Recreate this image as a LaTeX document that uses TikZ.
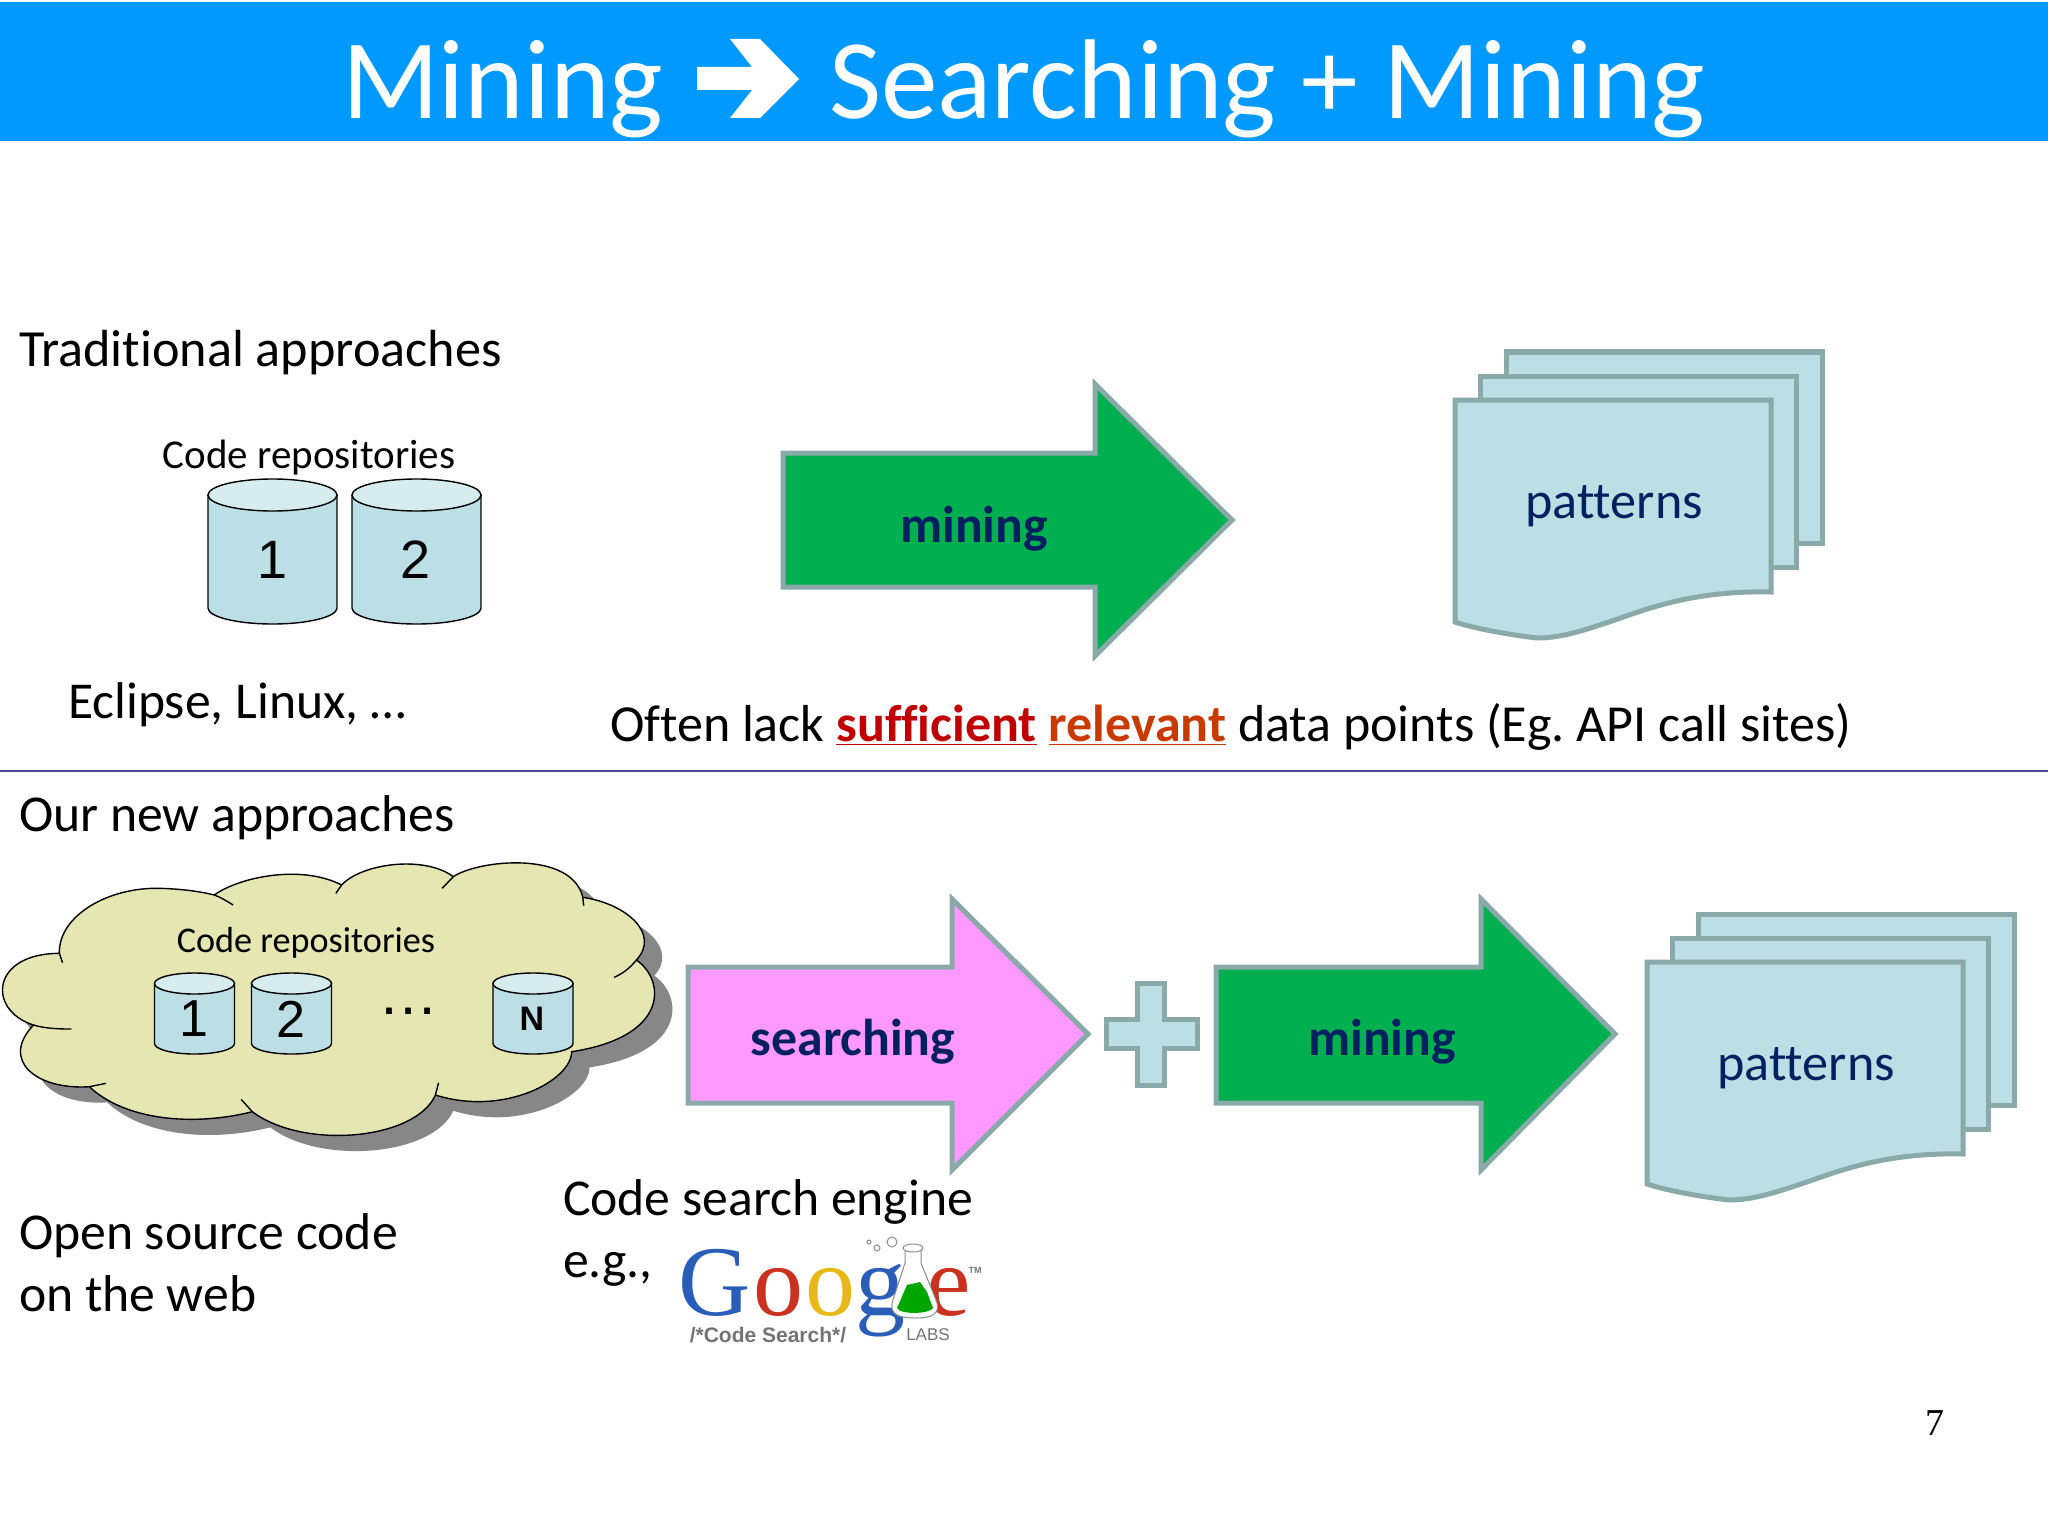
\documentclass[tikz,border=0pt]{standalone}
\usepackage{xcolor}
\usepackage{fontspec}
\setmainfont[Ligatures=NoCommon]{Carlito}
\newfontfamily\arialfont{Liberation Sans}
\newfontfamily\timesfont{Liberation Serif}
\usepackage{tikz}
\usetikzlibrary{positioning}
\definecolor{headblue}{HTML}{0099FF}
\definecolor{pagefill}{HTML}{BBDFE4}
\definecolor{pageedge}{HTML}{8AA9A9}
\definecolor{labelnavy}{HTML}{002060}
\definecolor{minegreen}{HTML}{00B050}
\definecolor{searchpink}{HTML}{FF99FF}
\definecolor{cloudfill}{HTML}{E6E6B3}
\definecolor{cloudshadow}{HTML}{878787}
\definecolor{ruleblue}{HTML}{4A4AA0}
\definecolor{logoblue}{HTML}{2A5DB8}
\definecolor{logored}{HTML}{C8321E}
\definecolor{logoyellow}{HTML}{E8B818}
\tikzstyle{txt} = [anchor=base west, inner sep=0, outer sep=0, font=\fontsize{25.85}{30}\selectfont]
\tikzstyle{rep} = [anchor=base, inner sep=0, outer sep=0]
\tikzstyle{page} = [draw=pageedge, fill=pagefill, line width=2.5pt, line join=miter]
\tikzstyle{blockarrow} = [draw=pageedge, line width=2.5pt, line join=miter]
\tikzstyle{arrowlabel} = [anchor=base, inner sep=0, text=labelnavy, font=\fontsize{25.9}{30}\selectfont\bfseries]
\tikzstyle{pagelabel} = [anchor=base, inner sep=0, text=labelnavy, font=\fontsize{26.1}{30}\selectfont]
\tikzstyle{repo} = [draw=black, fill=pagefill, line width=0.7pt]
\tikzstyle{repotop} = [draw=black, fill=pagefill!60!white, line width=0.7pt]
\tikzstyle{digit} = [inner sep=0, outer sep=0, font=\arialfont\fontsize{27}{30}\selectfont]
\tikzstyle{logo} = [anchor=base, inner sep=0, outer sep=0, font=\fontsize{50}{50}\selectfont\timesfont]
\tikzstyle{logosmall} = [inner sep=0, outer sep=0, text=black!55, font=\arialfont\fontsize{10.5}{12}\selectfont]
\newcommand{\cloudoutline}{(133, 340) .. controls (130, 230) and (240, 140) .. (360, 145)
  .. controls (410, 147) and (450, 155) .. (480, 165)
  .. controls (530, 115) and (670, 70) .. (765, 135)
  .. controls (810, 70) and (950, 45) .. (1015, 110)
  .. controls (1070, 60) and (1280, 30) .. (1305, 172)
  .. controls (1400, 190) and (1480, 280) .. (1425, 360)
  .. controls (1490, 420) and (1500, 590) .. (1280, 635)
  .. controls (1280, 720) and (1130, 830) .. (975, 765)
  .. controls (930, 900) and (680, 930) .. (565, 815)
  .. controls (430, 860) and (280, 840) .. (200, 740)
  .. controls (80, 750) and (0, 660) .. (75, 555)
  .. controls (-30, 510) and (-20, 340) .. (133, 340) -- cycle}
% centre x, top y, half width, end radius, lower end below the top
\newcommand{\repocan}[5]{
\begin{scope}[shift={(#1, #2)}]
\draw [repo] (-#3, #4) -- (-#3, #5) arc [start angle=180, end angle=0, x radius=#3, y radius=#4] -- (#3, #4) -- cycle;
\draw [repotop] (0, #4) ellipse [x radius=#3, y radius=#4];
\end{scope}
}
\begin{document}
\frenchspacing
\begin{tikzpicture}[x=0.5pt, y=-0.5pt]
\useasboundingbox (0, 0) rectangle (2048, 1535);
\fill [headblue] (0, 2) rectangle (2048, 141);
\node at (342, 119) [txt, text=white, font=\fontsize{56.7}{60}\selectfont] (title1) {Mining};
\fill [white] (697, 67) -- (752, 67) -- (730, 39) -- (760, 39) -- (799, 79) -- (760, 118) -- (730, 118) -- (752, 90) -- (697, 90) -- cycle;
\node at (829, 119) [txt, text=white, font=\fontsize{56.7}{60}\selectfont] (title2) {Searching + Mining};

\node at (19, 366) [txt, font=\fontsize{26.1}{30}\selectfont] (trad) {Traditional approaches};
\node at (309, 468) [rep, font=\fontsize{20.5}{24}\selectfont] (code1) {Code repositories};
\repocan{272.5}{479}{64.5}{16}{129}
\repocan{416.5}{479}{64.5}{16}{129}
\node at (273, 560) [digit] (r1num) {1};
\node at (416, 560) [digit] (r2num) {2};
\node at (68, 718) [txt] (eclipse) {Eclipse, Linux, …};

\draw [blockarrow, fill=minegreen] (783, 453) -- (1095, 453) -- (1095, 384) -- (1232, 520) -- (1095, 656) -- (1095, 587) -- (783, 587) -- cycle;
\node at (974, 542) [arrowlabel] (mine1) {mining};

\begin{scope}[shift={(1455, 400)}]
\draw [page] (51, -48) rectangle (367, 143);
\draw [page] (25, -24) rectangle (341, 167);
\draw [page] (0, 0) -- (316, 0) -- (316, 192) .. controls (234, 190) and (184, 212) .. (154, 222) .. controls (124, 232) and (104, 238) .. (82, 238) .. controls (64, 236) and (24, 230) .. (0, 222) -- cycle;
\node at (159, 118) [pagelabel] (pat1) {patterns};
\end{scope}

\node at (610, 741) [txt, font=\fontsize{26}{30}\selectfont] (lack) {Often lack \textcolor[HTML]{C00000}{\textbf{\underline{sufficient}}} \textcolor[HTML]{C83A00}{\textbf{\underline{relevant}}} data points (Eg. API call sites)};
\coordinate (ruleleft) at (0, 771);
\coordinate (ruleright) at (2048, 771);
\draw [ruleblue, line width=0.8pt] (ruleleft) -- (ruleright);
\node at (19, 831) [txt] (ours) {Our new approaches};

\begin{scope}[shift={(0, 840)}, x=0.2233pt, y=-0.1667pt]
\fill [cloudshadow, shift={(40, 47)}] \cloudoutline;
\draw [fill=cloudfill, line width=0.7pt] \cloudoutline;
\draw [line width=0.7pt] (480, 165) .. controls (495, 172) and (510, 185) .. (522, 195);
\draw [line width=0.7pt] (765, 135) -- (752, 160);
\draw [line width=0.7pt] (1015, 110) -- (990, 145);
\draw [line width=0.7pt] (1305, 172) -- (1307, 197);
\draw [line width=0.7pt] (1425, 360) .. controls (1410, 385) and (1395, 400) .. (1375, 412);
\draw [line width=0.7pt] (975, 765) -- (982, 728);
\draw [line width=0.7pt] (565, 815) -- (540, 778);
\draw [line width=0.7pt] (200, 740) -- (237, 730);
\draw [line width=0.7pt] (75, 555) .. controls (100, 565) and (130, 567) .. (160, 567);
\draw [line width=0.7pt] (133, 340) -- (140, 368);
\end{scope}
\node at (306, 952) [rep, font=\fontsize{18.1}{22}\selectfont] (code2) {Code repositories};
\repocan{194.5}{973}{40}{10.5}{70.5}
\repocan{291.5}{973}{40}{10.5}{70.5}
\repocan{533}{973}{40}{10.5}{70.5}
\node at (194, 1019) [digit, font=\arialfont\fontsize{26}{30}\selectfont] (c1num) {1};
\node at (291, 1019) [digit, font=\arialfont\fontsize{26}{30}\selectfont] (c2num) {2};
\node at (408, 1014) [rep, font=\arialfont\fontsize{30}{30}\selectfont] (dots) {…};
\node at (532, 1019) [digit, font=\arialfont\fontsize{17}{20}\selectfont\bfseries] (cnnum) {N};

\draw [blockarrow, fill=searchpink] (688, 967) -- (952, 967) -- (952, 899) -- (1088, 1034) -- (952, 1170) -- (952, 1103) -- (688, 1103) -- cycle;
\node at (853, 1055) [arrowlabel] (search) {searching};

\draw [page] (1137, 983) -- (1164, 983) -- (1164, 1019) -- (1197, 1019) -- (1197, 1048) -- (1164, 1048) -- (1164, 1085) -- (1137, 1085) -- (1137, 1048) -- (1106, 1048) -- (1106, 1019) -- (1137, 1019) -- cycle;

\draw [blockarrow, fill=minegreen] (1216, 967) -- (1481, 967) -- (1481, 899) -- (1615, 1034) -- (1481, 1170) -- (1481, 1103) -- (1216, 1103) -- cycle;
\node at (1382, 1055) [arrowlabel] (mine2) {mining};

\begin{scope}[shift={(1647, 962)}]
\draw [page] (51, -48) rectangle (367, 143);
\draw [page] (25, -24) rectangle (341, 167);
\draw [page] (0, 0) -- (316, 0) -- (316, 192) .. controls (234, 190) and (184, 212) .. (154, 222) .. controls (124, 232) and (104, 238) .. (82, 238) .. controls (64, 236) and (24, 230) .. (0, 222) -- cycle;
\node at (159, 118) [pagelabel] (pat2) {patterns};
\end{scope}

\node at (19, 1249) [txt] (open) {Open source code};
\node at (19, 1311) [txt] (web) {on the web};
\node at (563, 1215) [txt] (engine) {Code search engine};
\node at (563, 1277) [txt] (eg) {e.g.,};

\node at (715, 1315) [logo, text=logoblue] (g1) {G};
\node at (778, 1315) [logo, text=logored] (o1) {o};
\node at (830, 1315) [logo, text=logoyellow] (o2) {o};
\node at (880, 1315) [logo, text=logoblue] (g2) {g};
\node at (949, 1315) [logo, text=logored] (e1) {e};
\draw [fill=white, draw=black!45, line width=0.5pt] (905, 1250) -- (905, 1263) -- (893, 1300) .. controls (888, 1315) and (900, 1318) .. (915, 1318) .. controls (930, 1318) and (942, 1315) .. (936, 1300) -- (921, 1263) -- (921, 1250) -- cycle;
\fill [green!65!black] (907, 1285) -- (920, 1282) -- (927, 1292) -- (933, 1308) .. controls (930, 1314) and (900, 1315) .. (897, 1308) -- cycle;
\draw [fill=white, draw=black!45, line width=0.5pt] (913, 1248) ellipse [x radius=10, y radius=4];
\draw [draw=black!45, line width=0.5pt] (892, 1242) circle [radius=5];
\draw [draw=black!45, line width=0.5pt] (877, 1248) circle [radius=3];
\draw [draw=black!45, line width=0.5pt] (869, 1242) circle [radius=2];
\node at (975, 1270) [logosmall, font=\arialfont\fontsize{4.5}{5}\selectfont\bfseries] (tm) {TM};
\node at (768, 1335) [logosmall, font=\arialfont\fontsize{10.5}{12}\selectfont\bfseries] (cs) {/*Code Search*/};
\node at (928, 1335) [logosmall, font=\arialfont\fontsize{8.5}{10}\selectfont] (labs) {LABS};

\node at (1935, 1435) [rep, font=\timesfont\fontsize{19}{20}\selectfont] (pnum) {7};
\end{tikzpicture}
\end{document}
